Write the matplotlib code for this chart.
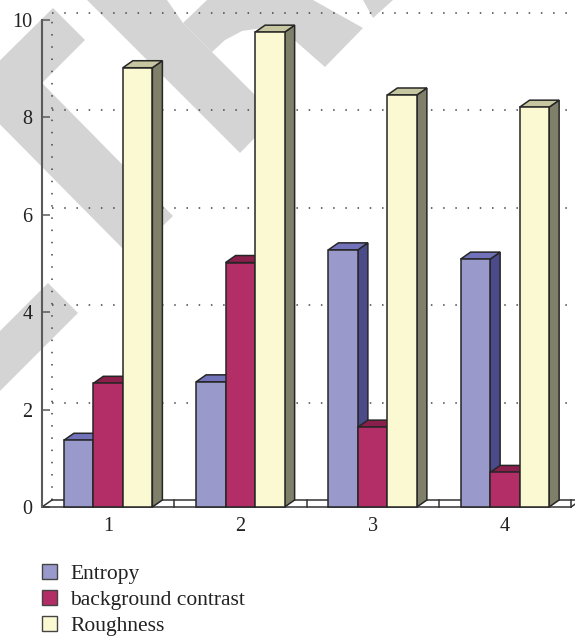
import numpy as np
import matplotlib.pyplot as plt
from matplotlib.patches import Polygon, Patch

plt.rcParams['font.family'] = ['Liberation Serif', 'DejaVu Serif']
plt.rcParams['font.size'] = 14

groups = ['1', '2', '3', '4']
series = ['Entropy', 'background contrast', 'Roughness']
entropy = [1.37, 2.57, 5.28, 5.09]
contrast = [2.54, 5.02, 1.64, 0.71]
roughness = [9.02, 9.75, 8.46, 8.21]
yticks = [0, 2, 4, 6, 8, 10]

# front / side / top shades per series
front = ['#9999cc', '#b32d67', '#fbf9d1']
side = ['#4b4b8c', '#7b1d46', '#80806a']
top = ['#7272bb', '#8a1f4c', '#c6c6a0']
edge = '#262626'

W, H = 575, 638
fig = plt.figure(figsize=(W / 100, H / 100), dpi=100)
ax = fig.add_axes([42 / W, 1 - 507 / H, 529 / W, 487 / H])
ax.set_xlim(0.5, 4.5)
ax.set_ylim(0, 10)
ax.patch.set_facecolor('none')

# box depth: 10 px to the right, 7 px up
ddx = 10 / 529 * 4
ddy = 7 / 487 * 10
bw = 29.5 / 529 * 4

# grey watermark strokes behind everything (figure pixels)
mark = [
    [(-32, 92), (53, 8), (85, 40), (42, 83), (173, 216), (131, 257)],
    [(48, 283), (78, 313), (-10, 401), (-10, 341)],
    [(87, 0), (167, 0), (183, 23), (276, 116), (240, 153)],
    [(183, 23), (207, 0), (313, 0), (363, 28), (325, 67), (284, 31),
     (262, 28), (242, 31), (225, 40), (212, 52)],
    [(363, 0), (393, 0), (373, 18)],
]
for pts in mark:
    fig.patches.append(Polygon([(x / W, 1 - y / H) for x, y in pts], closed=True,
                               transform=fig.transFigure, fc='#d4d4d4', ec='none', zorder=-1))

# back wall grid
for v in yticks[1:]:
    ax.plot([0.5 + ddx, 4.5 + ddx], [v + ddy, v + ddy], color='#444444', lw=1.1,
            ls=(0, (1, 7)), dash_capstyle='butt', clip_on=False, zorder=1)
ax.plot([0.5 + ddx, 0.5 + ddx], [ddy, 10 + ddy], color='#444444', lw=1.1,
        ls=(0, (1, 7)), dash_capstyle='butt', clip_on=False, zorder=1)

# floor
fl = dict(color='#333333', lw=1.1, clip_on=False, zorder=2)
ax.plot([0.5, 4.5], [0, 0], **fl)
ax.plot([0.5 + ddx, 4.5 + ddx], [ddy, ddy], **fl)
for b in [0.5, 4.5]:
    ax.plot([b, b + ddx], [0, ddy], **fl)
for b in [1.5, 2.5, 3.5, 4.5]:
    ax.plot([b, b], [0, ddy], **fl)

# bars: side, top, then front face, left to right
z = 3
for g, vals in enumerate(zip(entropy, contrast, roughness)):
    for i, v in enumerate(vals):
        x0 = g + 1 + (i - 1.5) * bw
        x1 = x0 + bw
        faces = [
            ([(x1, 0), (x1 + ddx, ddy), (x1 + ddx, v + ddy), (x1, v)], side[i]),
            ([(x0, v), (x1, v), (x1 + ddx, v + ddy), (x0 + ddx, v + ddy)], top[i]),
            ([(x0, 0), (x1, 0), (x1, v), (x0, v)], front[i]),
        ]
        for pts, c in faces:
            ax.add_patch(Polygon(pts, closed=True, fc=c, ec=edge, lw=1.1,
                                 joinstyle='miter', clip_on=False, zorder=z))
            z += 1

for s in ['top', 'right', 'bottom']:
    ax.spines[s].set_visible(False)
ax.spines['left'].set_color('#5a5a5a')
ax.spines['left'].set_linewidth(1.5)
ax.spines['left'].set_zorder(2)
ax.set_yticks(yticks)
ax.tick_params(axis='y', direction='in', length=6, width=1.1, color='#5a5a5a',
               pad=7, labelcolor='#222222', labelsize=14.5)
ax.set_xticks(range(1, 5))
ax.set_xticklabels(groups)
ax.tick_params(axis='x', length=0, pad=7, labelcolor='#222222', labelsize=14.5)

handles = [Patch(fc=front[i], ec='#444444', lw=1.0) for i in range(3)]
fig.legend(handles, series, loc='upper left', bbox_to_anchor=(35.5 / W, 1 - 557.5 / H),
           frameon=False, fontsize=15.5, handlelength=0.7, handleheight=0.7,
           handletextpad=0.6, labelspacing=0.28, borderaxespad=0, borderpad=0.3,
           labelcolor='#222222')

fig.savefig('out.png', dpi=100)
